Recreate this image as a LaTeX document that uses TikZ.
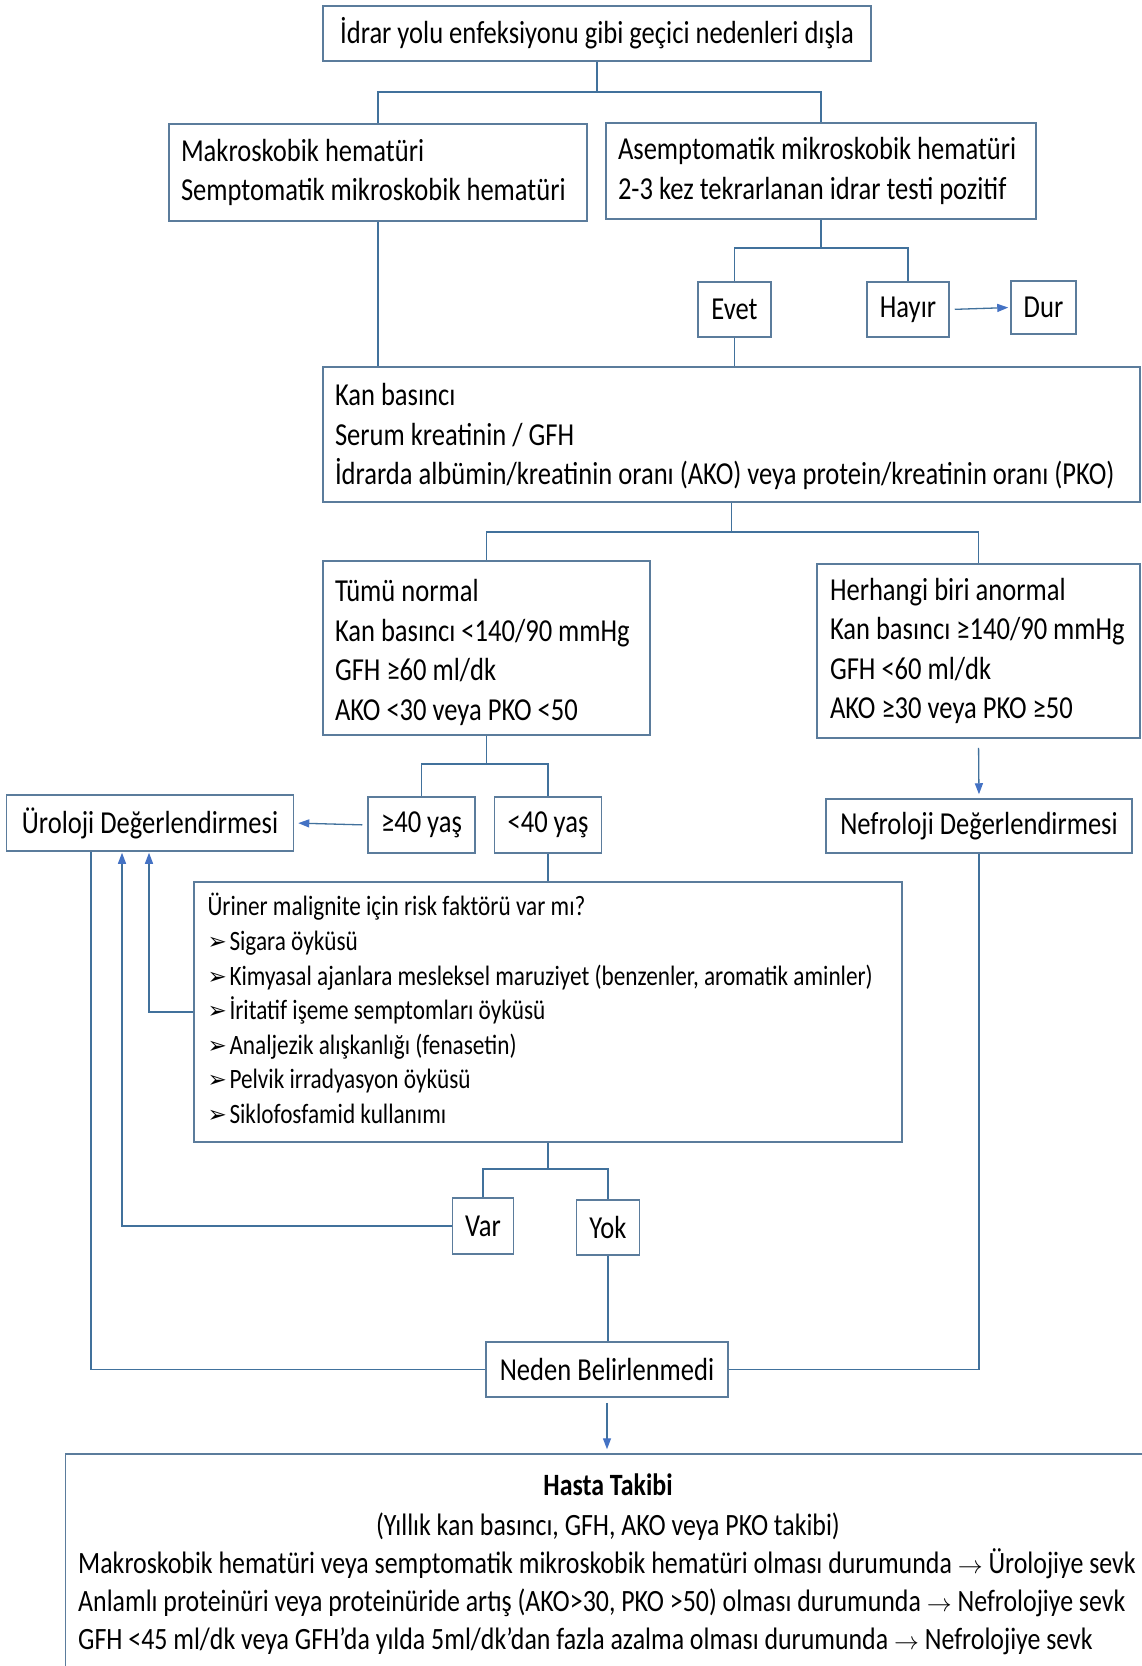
\documentclass[tikz,border=0pt]{standalone}
\usepackage{fontspec}
\setmainfont{Carlito}[FakeStretch=0.83]
\newfontfamily\symf{DejaVu Sans}
\newfontfamily\hastaf{Carlito}[FakeStretch=0.835]
\usetikzlibrary{arrows.meta,calc}
\definecolor{boxc}{HTML}{5B7C9C}
\definecolor{linec}{HTML}{41719C}
\definecolor{arrc}{HTML}{4472C4}
\newcommand\fsz[2]{\fontsize{#1}{#2}\selectfont}
\newcommand\bul{\makebox[22pt][l]{\symf\fsz{23}{23}\raisebox{1pt}{➢}}}
\newcommand\lne[1]{\mbox{#1}}
\tikzset{
 box/.style={draw=boxc, line width=1.5pt, fill=white, inner sep=0pt, font=\fsz{32}{39.5}, text=black},
 tbox/.style={box, align=flush left},
 conn/.style={draw=linec, line width=1.3pt},
 arr/.style={conn, -{Triangle[length=11pt,width=8pt,color=arrc]}},
 htxt/.style={inner sep=0pt, font=\hastaf\fsz{31}{38}},
}
\begin{document}
\begin{tikzpicture}[x=1pt,y=-1pt]
\useasboundingbox (0,0) rectangle (1142,1666);
\clip (0,0) rectangle (1142,1666);
\fill[white] (0,0) rectangle (1142,1666);

\node[box, minimum width=548pt, minimum height=55pt] (top) at (597,33.5) {İdrar yolu enfeksiyonu gibi geçici nedenleri dışla};
\node[tbox, minimum width=418pt, minimum height=97pt, text width=394pt] (mak) at (378,172.5) {\lne{Makroskobik hematüri}\\\lne{Semptomatik mikroskobik hematüri}};
\node[tbox, minimum width=430pt, minimum height=96pt, text width=406pt] (asem) at (821,171) {\lne{Asemptomatik mikroskobik hematüri}\\\lne{2-3 kez tekrarlanan idrar testi pozitif}};
\node[box, minimum width=73pt, minimum height=55pt] (evet) at (734.5,309.5) {Evet};
\node[box, minimum width=82pt, minimum height=55pt] (hayir) at (908,309.5) {Hayır};
\node[box, minimum width=65pt, minimum height=53pt] (dur) at (1043.5,307.5) {Dur};
\node[tbox, minimum width=817pt, minimum height=135pt, text width=793pt] (kan) at (731.5,434.5) {\lne{\rule{0pt}{27pt}Kan basıncı}\\\lne{Serum kreatinin / GFH}\\\lne{İdrarda albümin/kreatinin oranı (AKO) veya protein/kreatinin oranı (PKO)}};
\node[tbox, minimum width=327pt, minimum height=174pt, text width=303pt] (tumu) at (486.5,648) {\lne{\rule{0pt}{31pt}Tümü normal}\\\lne{Kan basıncı <140/90 mmHg}\\\lne{GFH ≥60 ml/dk}\\\lne{AKO <30 veya PKO <50}};
\node[tbox, minimum width=323pt, minimum height=174pt, text width=297pt] (herh) at (978.5,651) {\lne{Herhangi biri anormal}\\\lne{Kan basıncı ≥140/90 mmHg}\\\lne{GFH <60 ml/dk}\\\lne{AKO ≥30 veya PKO ≥50}};
\node[box, minimum width=107pt, minimum height=56pt] (ge40) at (421.5,825) {≥40 yaş};
\node[box, minimum width=107pt, minimum height=56pt] (lt40) at (548,825) {<40 yaş};
\node[box, minimum width=287pt, minimum height=56pt] (uro) at (150,823) {Üroloji Değerlendirmesi};
\node[box, minimum width=306pt, minimum height=54pt] (nef) at (979,826) {Nefroloji Değerlendirmesi};
\node[tbox, minimum width=708pt, minimum height=260pt, text width=681pt, font=\fsz{28}{34.6}] (risk) at (548,1012) {\lne{Üriner malignite için risk faktörü var mı?}\\\lne{\bul Sigara öyküsü}\\\lne{\bul Kimyasal ajanlara mesleksel maruziyet (benzenler, aromatik aminler)}\\\lne{\bul İritatif işeme semptomları öyküsü}\\\lne{\bul Analjezik alışkanlığı (fenasetin)}\\\lne{\bul Pelvik irradyasyon öyküsü}\\\lne{\bul Siklofosfamid kullanımı\rule[-7pt]{0pt}{0pt}}};
\node[box, minimum width=61pt, minimum height=56pt] (var) at (483,1226) {Var};
\node[box, minimum width=63pt, minimum height=55pt] (yok) at (608,1227.5) {Yok};
\node[box, minimum width=242pt, minimum height=55pt] (neden) at (607,1369.5) {Neden Belirlenmedi};
\node[box, minimum width=1090pt, minimum height=240pt] (hasta) at (610.5,1574) {};
\node[htxt, font=\hastaf\bfseries\fsz{31}{38}, anchor=base] (ht) at (608,1495) {Hasta Takibi};
\node[htxt, anchor=base] (hs) at (608,1535) {(Yıllık kan basıncı, GFH, AKO veya PKO takibi)};
\node[htxt, anchor=base west] (h1) at (78,1573) {Makroskobik hematüri veya semptomatik mikroskobik hematüri olması durumunda $\rightarrow$ Ürolojiye sevk};
\node[htxt, anchor=base west] (h2) at (78,1611) {Anlamlı proteinüri veya proteinüride artış (AKO>30, PKO >50) olması durumunda $\rightarrow$ Nefrolojiye sevk};
\node[htxt, anchor=base west] (h3) at (78,1649) {GFH <45 ml/dk veya GFH’da yılda 5ml/dk’dan fazla azalma olması durumunda $\rightarrow$ Nefrolojiye sevk};

% connectors
\draw[conn] (top.south) -- (top.south |- 0,92) -| (mak.north);
\draw[conn] (top.south |- 0,92) -| (asem.north);
\draw[conn] (asem.south) -- (asem.south |- 0,248) -| (evet.north);
\draw[conn] (asem.south |- 0,248) -| (hayir.north);
\draw[arr, shorten <=5pt, shorten >=2pt] (hayir.east) -- (dur.west);
\draw[conn] (mak.south) -- (mak.south |- kan.north);
\draw[conn] (evet.south) -- (evet.south |- kan.north);
\draw[conn] (kan.south) -- (kan.south |- 0,532) -| (tumu.north);
\draw[conn] (kan.south |- 0,532) -| (herh.north);
\draw[conn] (tumu.south) -- (tumu.south |- 0,764) -| (ge40.north);
\draw[conn] (tumu.south |- 0,764) -| (lt40.north);
\draw[arr, shorten <=5pt, shorten >=4pt] (ge40.west) -- (uro.east);
\draw[arr, shorten <=9pt, shorten >=4pt] (herh.south) -- (nef.north);
\draw[conn] (lt40.south) -- (lt40.south |- risk.north);
\draw[conn] (risk.south) -- (risk.south |- 0,1169) -| (var.north);
\draw[conn] (risk.south |- 0,1169) -| (yok.north);
\draw[arr, shorten >=1pt] (risk.west) -| ([xshift=-1pt]uro.south);
\draw[arr, shorten >=1pt] (var.west) -| ([xshift=-28pt]uro.south);
\draw[conn] ([xshift=-59pt]uro.south) |- (neden.west);
\draw[conn] (yok.south) -- (yok.south |- neden.north);
\draw[conn] (nef.south) |- (neden.east);
\draw[arr, shorten <=5pt, shorten >=4pt] (neden.south) -- (neden.south |- hasta.north);
\end{tikzpicture}
\end{document}
